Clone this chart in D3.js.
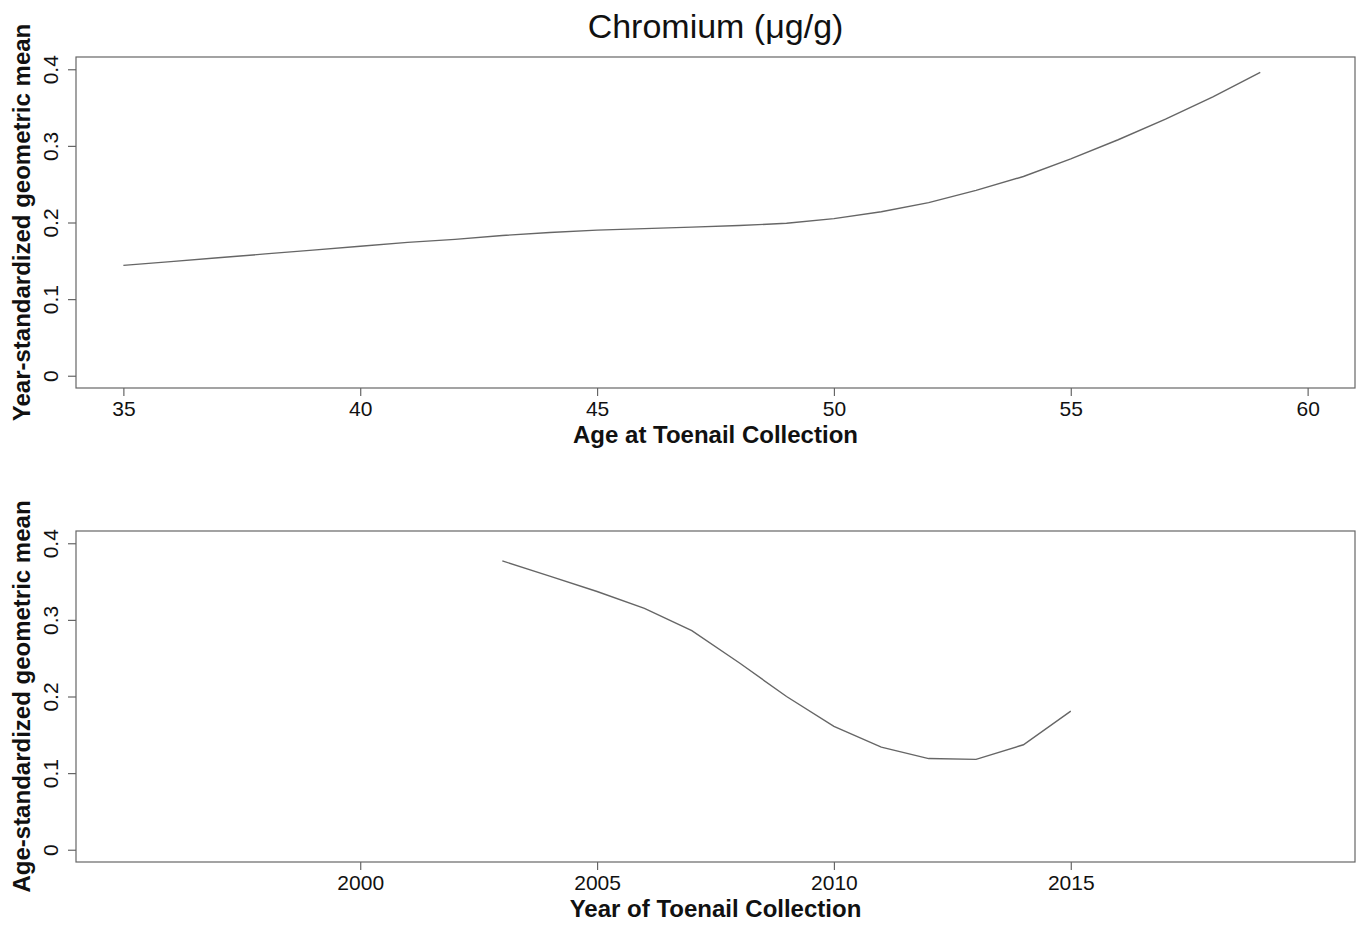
<!DOCTYPE html>
<html>
<head>
<meta charset="utf-8">
<script src="https://cdn.jsdelivr.net/npm/d3@7/dist/d3.min.js"></script>
<style>
  html, body { margin: 0; padding: 0; background: #fff; }
  svg { display: block; }
  text { font-family: "Liberation Sans", Arial, Helvetica, sans-serif; fill: #111; }
</style>
</head>
<body>
<svg id="chart" width="1361" height="925"></svg>
<script>
// ---- data ----
const chartTitle = "Chromium (\u03bcg/g)";
const ageValues = [35, 36, 37, 38, 39, 40, 41, 42, 43, 44, 45, 46, 47, 48, 49, 50, 51, 52, 53, 54, 55, 56, 57, 58, 59];
const ageMeans = [0.144, 0.149, 0.154, 0.159, 0.164, 0.169, 0.174, 0.178, 0.183, 0.187, 0.190, 0.192, 0.194, 0.196, 0.199, 0.205, 0.214, 0.226, 0.242, 0.260, 0.283, 0.308, 0.335, 0.364, 0.396];
const yearValues = [2003, 2004, 2005, 2006, 2007, 2008, 2009, 2010, 2011, 2012, 2013, 2014, 2015];
const yearMeans = [0.377, 0.357, 0.337, 0.315, 0.286, 0.244, 0.200, 0.161, 0.134, 0.119, 0.118, 0.137, 0.181];
const ageTicks = [35, 40, 45, 50, 55, 60];
const yearTicks = [2000, 2005, 2010, 2015];
const yTicks = [0, 0.1, 0.2, 0.3, 0.4];
const ageDomain = [34, 61];
const yearDomain = [1994, 2021];
const yDomain = [-0.016, 0.416];

const svg = d3.select("#chart");
const left = 76, right = 1355;
const panels = [
  { top: 57, bottom: 388, xs: ageValues, ys: ageMeans, xDomain: ageDomain, xTicks: ageTicks,
    xLabel: "Age at Toenail Collection", yLabel: "Year-standardized geometric mean" },
  { top: 531, bottom: 862, xs: yearValues, ys: yearMeans, xDomain: yearDomain, xTicks: yearTicks,
    xLabel: "Year of Toenail Collection", yLabel: "Age-standardized geometric mean" }
];

svg.append("text")
  .attr("x", (left + right) / 2).attr("y", 38)
  .attr("text-anchor", "middle")
  .style("font-size", "34px")
  .text(chartTitle);

panels.forEach(p => {
  const x = d3.scaleLinear().domain(p.xDomain).range([left, right]);
  const y = d3.scaleLinear().domain(yDomain).range([p.bottom, p.top]);
  const g = svg.append("g");

  g.append("rect")
    .attr("x", left).attr("y", p.top)
    .attr("width", right - left).attr("height", p.bottom - p.top)
    .attr("fill", "none").attr("stroke", "#666").attr("stroke-width", 1.2);

  const xa = g.append("g").attr("transform", `translate(0,${p.bottom})`)
    .call(d3.axisBottom(x).tickValues(p.xTicks).tickSize(8).tickPadding(5).tickFormat(d3.format("d")));
  xa.select(".domain").remove();
  xa.selectAll(".tick line").attr("stroke", "#666").attr("stroke-width", 1.2);
  xa.selectAll(".tick text").style("font-size", "21px").attr("fill", "#111")
    .style("font-family", '"Liberation Sans", Arial, sans-serif');

  const ya = g.append("g").attr("transform", `translate(${left},0)`)
    .call(d3.axisLeft(y).tickValues(yTicks).tickSize(8).tickFormat(d => d === 0 ? "0" : d3.format(".1f")(d)));
  ya.select(".domain").remove();
  ya.selectAll(".tick line").attr("stroke", "#666").attr("stroke-width", 1.2);
  ya.selectAll(".tick text")
    .style("font-size", "21px").attr("fill", "#111")
    .style("font-family", '"Liberation Sans", Arial, sans-serif')
    .attr("x", null).attr("dy", null)
    .attr("text-anchor", "middle")
    .attr("transform", "translate(-18,0) rotate(-90)");

  const line = d3.line().x(d => x(d[0])).y(d => y(d[1]));
  g.append("path")
    .datum(p.xs.map((v, i) => [v, p.ys[i]]))
    .attr("d", line)
    .attr("fill", "none").attr("stroke", "#666").attr("stroke-width", 1.4);

  g.append("text")
    .attr("x", (left + right) / 2).attr("y", p.bottom + 55)
    .attr("text-anchor", "middle")
    .style("font-size", "24px").style("font-weight", "bold")
    .text(p.xLabel);

  g.append("text")
    .attr("transform", `translate(30,${(p.top + p.bottom) / 2}) rotate(-90)`)
    .attr("text-anchor", "middle")
    .style("font-size", "24px").style("font-weight", "bold")
    .text(p.yLabel);
});
</script>
</body>
</html>
